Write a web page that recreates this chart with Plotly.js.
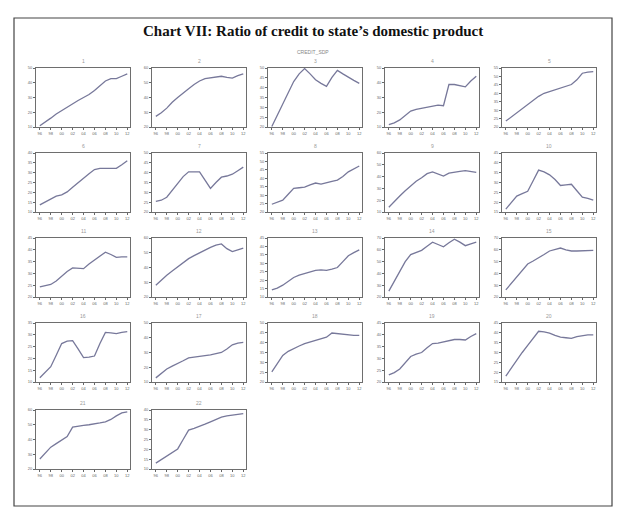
<!DOCTYPE html>
<html>
<head>
<meta charset="utf-8">
<script src="https://cdn.plot.ly/plotly-3.0.1.min.js"></script>
<style>html,body{margin:0;padding:0;background:#fff;}#chart{width:625px;height:522px;}</style>
</head>
<body>
<div id="chart"></div>
<script>
// Years (annual observations) and x tick labels
const years = [1996,1997,1998,1999,2000,2001,2002,2003,2004,2005,2006,2007,2008,2009,2010,2011,2012];
const xTickYears = [1996,1998,2000,2002,2004,2006,2008,2010,2012];
const xTickLabels = ["96","98","00","02","04","06","08","10","12"];

// Panel names
const panelNames = ["1","2","3","4","5","6","7","8","9","10","11","12","13","14","15","16","17","18","19","20","21","22"];

// CREDIT_SDP series (per cent), one array per state panel
const s1  = [10.8,13.2,16.0,18.8,21.2,23.6,26.0,28.0,30.0,32.0,34.8,38.0,41.2,42.8,42.8,44.4,46.0];
const s2  = [27.2,29.6,32.8,36.8,40.0,43.2,46.0,48.8,51.2,52.8,53.2,53.6,54.4,53.6,53.2,54.8,56.0];
const s3  = [20.3,26.0,31.7,37.4,43.1,47.0,49.7,47.0,44.0,42.2,40.7,45.2,48.8,47.0,45.2,43.7,42.2];
const s4  = [11.6,12.8,14.8,18.0,20.8,22.0,22.8,23.6,24.4,24.8,24.4,38.8,38.8,38.0,37.2,41.2,44.4];
const s5  = [23.5,26.0,28.4,30.9,33.3,35.8,38.2,40.0,41.0,42.1,43.1,44.2,45.2,48.0,51.9,52.6,52.9];
const s6  = [13.6,15.1,16.9,18.1,18.7,20.2,22.6,25.0,27.4,29.5,31.6,32.2,32.2,32.2,32.2,34.0,36.1];
const s7  = [25.4,26.0,27.5,31.1,34.7,38.0,40.4,40.4,40.4,36.2,32.0,35.0,37.7,38.3,39.2,41.0,42.8];
const s8  = [24.6,25.6,27.0,30.5,34.0,34.4,34.7,36.1,37.2,36.5,37.5,38.2,38.9,41.0,43.8,45.6,47.3];
const s9  = [14.0,19.0,23.5,28.0,32.0,36.0,39.0,42.5,44.0,42.5,40.5,43.0,44.0,44.5,45.0,44.5,43.5];
const s10 = [16.5,19.8,23.1,24.3,25.5,30.9,36.3,35.4,33.9,31.5,28.5,28.8,29.1,25.8,22.5,21.9,21.0];
const s11 = [24.3,24.8,25.3,26.8,28.8,30.8,32.3,32.3,32.0,34.0,35.8,37.5,39.0,38.0,36.8,37.0,37.0];
const s12 = [28.0,31.6,34.8,37.6,40.4,43.2,46.0,48.0,50.0,52.0,53.6,55.2,56.0,52.8,50.8,52.0,53.2];
const s13 = [14.2,15.3,17.0,19.5,21.6,23.0,24.0,25.1,25.8,26.1,25.8,26.5,27.5,31.0,34.5,36.3,38.0];
const s14 = [25.0,33.5,42.0,50.0,56.0,58.0,59.5,63.0,66.5,64.5,62.5,66.0,69.0,66.5,63.5,65.0,66.5];
const s15 = [26.0,31.5,37.0,43.0,48.0,50.5,53.0,56.0,59.0,60.5,61.5,60.0,59.0,59.0,59.0,59.5,59.5];
const s16 = [11.8,14.0,16.5,21.3,26.3,27.3,27.5,24.0,20.3,20.5,21.0,26.3,31.0,30.8,30.5,31.0,31.3];
const s17 = [12.8,16.0,18.8,20.8,22.4,24.4,26.4,26.8,27.2,28.0,28.4,29.2,30.0,32.4,35.2,36.4,36.8];
const s18 = [25.1,29.3,33.5,35.6,37.1,38.3,39.5,40.4,41.3,41.9,42.8,44.9,44.6,44.0,44.0,43.7,43.7];
const s19 = [23.0,24.0,25.5,28.3,30.8,31.8,32.5,34.5,36.3,36.5,37.0,37.5,38.0,38.0,37.8,39.3,40.5];
const s20 = [18.0,22.2,25.8,30.0,33.6,37.2,40.8,40.5,39.9,38.7,37.8,37.5,37.2,38.1,38.7,39.0,39.0];
const s21 = [26.8,30.8,34.8,37.2,39.6,42.0,48.4,49.2,49.6,50.0,50.4,51.2,52.0,53.6,56.0,58.0,58.8];
const s22 = [13.0,14.8,16.9,18.4,20.2,25.0,29.8,30.7,31.6,32.8,34.0,35.2,36.4,37.0,37.3,37.9,38.2];

// Y-axis tick ranges per panel: [min, max, step]
const yScales = [
  [10,50,10],[20,60,10],[20,50,5],[10,50,10],[20,55,5],
  [10,40,5],[20,50,5],[20,55,5],[10,60,10],[15,45,5],
  [20,45,5],[20,60,10],[10,45,5],[20,70,10],[20,70,10],
  [10,35,5],[10,50,10],[20,50,5],[20,45,5],[15,45,5],
  [20,60,10],[10,40,5]
];

const series = [s1,s2,s3,s4,s5,s6,s7,s8,s9,s10,s11,s12,s13,s14,s15,s16,s17,s18,s19,s20,s21,s22];

// Layout geometry (pixels)
const W = 625, H = 522;
const colLeft = [36,152,268,385,502];
const rowTop = [68,153,238,323,410];
const pw = 94, ph = 59;

const traces = [];
const layout = {
  width: W, height: H,
  margin: {l:0, r:0, t:0, b:0},
  paper_bgcolor: '#fff',
  plot_bgcolor: '#fff',
  showlegend: false,
  font: {family: 'Arial, Liberation Sans, sans-serif', color: '#777'},
  annotations: [],
  shapes: [{
    type: 'rect', xref: 'paper', yref: 'paper',
    x0: 14/W, x1: 612/W, y0: 1-506/H, y1: 1-18/H,
    line: {color: '#444', width: 1.2}, fillcolor: 'rgba(0,0,0,0)', layer: 'below'
  }]
};

layout.annotations.push({
  text: '<b>Chart VII: Ratio of credit to state\u2019s domestic product</b>',
  xref: 'paper', yref: 'paper', x: 313/W, y: 1-31/H,
  xanchor: 'center', yanchor: 'middle', showarrow: false,
  font: {family: 'Liberation Serif, Times New Roman, serif', size: 15, color: '#111'}
});
layout.annotations.push({
  text: 'CREDIT_SDP',
  xref: 'paper', yref: 'paper', x: 313/W, y: 1-52/H,
  xanchor: 'center', yanchor: 'middle', showarrow: false,
  font: {size: 5, color: '#888'}
});

series.forEach((ys, i) => {
  const r = Math.floor(i/5), c = i % 5;
  const k = i + 1;
  const xa = 'xaxis' + (k === 1 ? '' : k);
  const ya = 'yaxis' + (k === 1 ? '' : k);
  const xref = 'x' + (k === 1 ? '' : k);
  const yref = 'y' + (k === 1 ? '' : k);
  const x0 = colLeft[c], y0 = rowTop[r];
  traces.push({
    x: years, y: ys, xaxis: xref, yaxis: yref,
    type: 'scatter', mode: 'lines',
    line: {color: '#77789a', width: 1.3},
    hoverinfo: 'skip'
  });
  const sc = yScales[i];
  const axBase = {
    showline: true, mirror: true, linecolor: '#6e6e6e', linewidth: 1,
    showgrid: false, zeroline: false,
    ticks: 'outside', ticklen: 2, tickwidth: 1, tickcolor: '#666',
    tickfont: {size: 4, color: '#666'}, fixedrange: true
  };
  layout[xa] = Object.assign({}, axBase, {
    domain: [x0/W, (x0+pw)/W],
    anchor: yref,
    range: [1995.3, 2012.5],
    tickmode: 'array', tickvals: xTickYears, ticktext: xTickLabels
  });
  layout[ya] = Object.assign({}, axBase, {
    domain: [1-(y0+ph)/H, 1-y0/H],
    anchor: xref,
    range: [sc[0], sc[1]],
    tickmode: 'linear', tick0: sc[0], dtick: sc[2]
  });
  layout.annotations.push({
    text: panelNames[i], xref: 'paper', yref: 'paper',
    x: (x0+pw/2)/W, y: 1-(y0-7)/H, xanchor: 'center', yanchor: 'middle',
    showarrow: false, font: {size: 5, color: '#999'}
  });
});

Plotly.newPlot('chart', traces, layout, {displayModeBar: false, staticPlot: true});
</script>
</body>
</html>
